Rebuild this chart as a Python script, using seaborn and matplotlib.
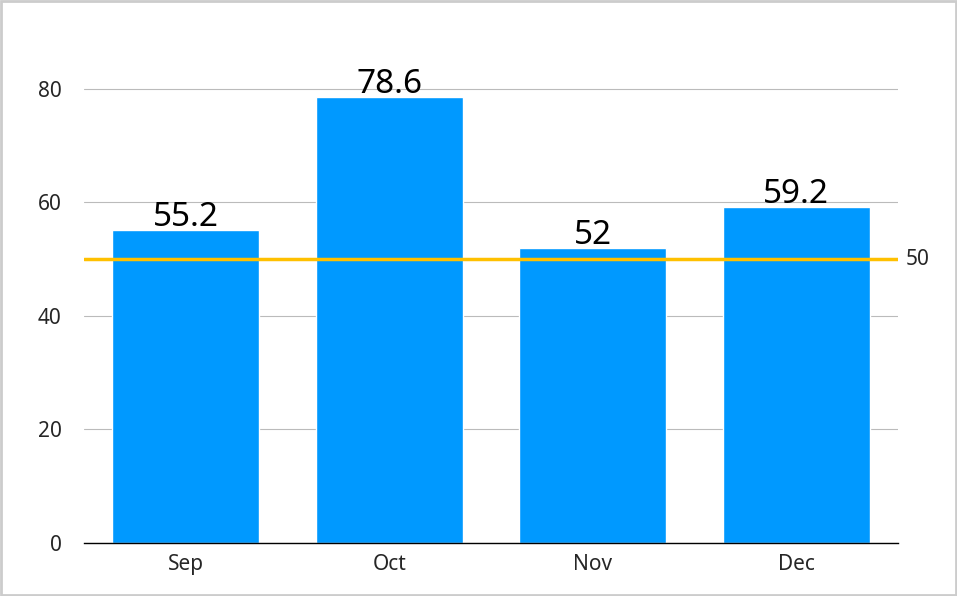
import pandas as pd
import seaborn as sns
import matplotlib.pyplot as plt
from matplotlib.patches import Rectangle

months = ["Sep", "Oct", "Nov", "Dec"]
values = [55.2, 78.6, 52, 59.2]
labels = ["55.2", "78.6", "52", "59.2"]
target = 50

df = pd.DataFrame({"month": months, "value": values})

sns.set_style("white")
plt.rcParams['font.family'] = ['Noto Sans', 'DejaVu Sans']

fig = plt.figure(figsize=(9.57, 5.96), dpi=100)
ax = fig.add_axes([84 / 957, 1 - 543 / 596, 814 / 957, 511 / 596])

sns.barplot(data=df, x="month", y="value", color="#0099ff", saturation=1,
            width=0.72, ax=ax, zorder=2)

# value labels on top of bars
for i, (v, t) in enumerate(zip(values, labels)):
    ax.text(i, v - 0.8, t, ha="center", va="bottom", fontsize=24, color="black")

ax.axhline(target, color="#ffc000", lw=2.5, zorder=3)
ax.text(1.01, target, str(target), transform=ax.get_yaxis_transform(),
        ha="left", va="center", fontsize=15)

ax.set_ylim(0, 90)
ax.set_xlim(-0.5, 3.5)
ax.set_yticks([0, 20, 40, 60, 80])
ax.yaxis.grid(True, color="#bbbbbb", lw=0.8, zorder=0)
ax.set_xlabel("")
ax.set_ylabel("")
ax.tick_params(axis="both", length=0, labelsize=15, pad=8)
ax.tick_params(axis="y", pad=16)
for s in ["top", "right", "left"]:
    ax.spines[s].set_visible(False)
ax.spines["bottom"].set_color("black")
ax.spines["bottom"].set_linewidth(1)

fig.patches.append(Rectangle((0.001, 0.001), 0.998, 0.997, transform=fig.transFigure,
                             fill=False, edgecolor="#cccccc", lw=2))

fig.savefig("out.png", dpi=100)
